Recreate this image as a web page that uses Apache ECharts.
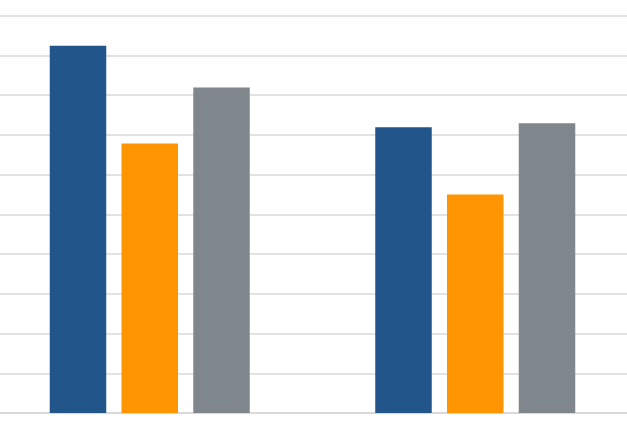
<!DOCTYPE html>
<html><head><meta charset="utf-8">
<script src="https://cdn.jsdelivr.net/npm/echarts@6/dist/echarts.min.js"></script>
<style>html,body{margin:0;padding:0;background:#fff;overflow:hidden;width:627px;height:428px}#c{width:651px;height:428px;margin-left:-13px}</style>
</head><body><div id="c"></div>
<script>
const categories = ['A', 'B'];
const seriesBlue = [9.24, 7.19];
const seriesOrange = [6.78, 5.50];
const seriesGray = [8.19, 7.29];

const chart = echarts.init(document.getElementById('c'), null, {renderer: 'canvas'});
const barStyle = (color) => ({type: 'bar', barWidth: 56.5, barGap: '27%', itemStyle: {color: color}, silent: true});
chart.setOption({
  animation: false,
  grid: {left: 0, right: 0, top: 15.5, bottom: 15, containLabel: false},
  xAxis: {type: 'category', data: categories,
    axisLine: {show: true, lineStyle: {color: '#d6d6d6', width: 1.5}},
    axisTick: {show: false}, axisLabel: {show: false}},
  yAxis: {type: 'value', min: 0, max: 10, interval: 1,
    axisLine: {show: false}, axisTick: {show: false}, axisLabel: {show: false},
    splitLine: {lineStyle: {color: '#d9d9d9', width: 1.5}}},
  series: [
    Object.assign(barStyle('#22568a'), {name: 'S1', data: seriesBlue}),
    Object.assign(barStyle('#ff9500'), {name: 'S2', data: seriesOrange}),
    Object.assign(barStyle('#80878c'), {name: 'S3', data: seriesGray})
  ]
});
</script></body></html>
